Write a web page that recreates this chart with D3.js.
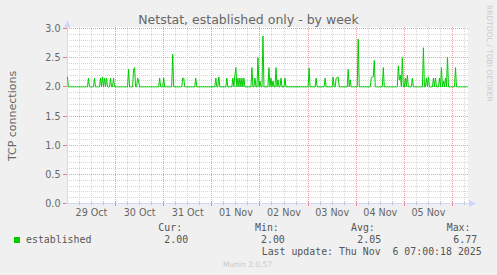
<!DOCTYPE html>
<html><head><meta charset="utf-8">
<script src="https://cdn.jsdelivr.net/npm/d3@7"></script>
<style>
html,body{margin:0;padding:0;background:#f0f0f0;}
svg{display:block;}
</style></head>
<body>
<script>
// ---- data ----
const title = "Netstat, established only - by week";
const yLabel = "TCP connections";
const seriesName = "established";
const seriesStart = Date.UTC(2025, 9, 29, 0, 0);   // first 30-minute sample
const sampleCount = 400;                            // 30-minute samples shown
const baselineValue = 2.0;                          // value of every sample not listed below
const spikeSlots = [0,21,27,33,35,37,39,43,46,61,66,67,70,71,92,96,105,115,116,128,148,151,159,165,167,168,170,172,174,176,184,187,190,192,195,201,203,205,208,210,213,217,241,248,257,265,268,269,270,280,282,290,303,304,305,306,315,330,331,332,334,337,339,344,355,358,360,365,367,371,373,375,377,379,387];
const spikeValues = [2.17,2.15,2.15,2.15,2.17,2.15,2.15,2.15,2.15,2.3,2.3,2.33,2.15,2.1,2.15,2.15,2.56,2.15,2.15,2.15,2.15,2.17,2.15,2.15,2.2,2.33,2.15,2.15,2.15,2.15,2.33,2.15,2.5,2.1,2.87,2.33,2.15,2.1,2.33,2.12,2.15,2.15,2.32,2.15,2.15,2.17,2.15,2.15,2.17,2.3,2.12,2.82,2.15,2.17,2.17,2.45,2.33,2.36,2.12,2.2,2.5,2.15,2.2,2.15,2.67,2.15,2.17,2.15,2.15,2.15,2.33,2.1,2.15,2.51,2.33];
const yTicks = [0.0,0.5,1.0,1.5,2.0,2.5,3.0];
const dayTicks = ["2025-10-29","2025-10-30","2025-10-31","2025-11-01","2025-11-02","2025-11-03","2025-11-04","2025-11-05"];
const legendHeads = ["Cur:","Min:","Avg:","Max:"];
const legendVals = ["2.00","2.00","2.05","6.77"];
const lastUpdate = "Last update: Thu Nov  6 07:00:18 2025";
const footer = "Munin 2.0.57";
const watermark = "RRDTOOL / TOBI OETIKER";

// ---- build series ----
const spikeMap = new Map(spikeSlots.map((s,i)=>[s, spikeValues[i]]));
const series = d3.range(sampleCount).map(i => ({
  t: new Date(seriesStart + i*1800000),
  v: spikeMap.has(i) ? spikeMap.get(i) : baselineValue
}));

// ---- layout ----
const W = 497, H = 275;
const pLeft = 67, pRight = 468, pTop = 27, pBottom = 203.5;
const svg = d3.select("body").append("svg").attr("width", W).attr("height", H)
  .style("font-family", "'DejaVu Sans', sans-serif");
svg.append("rect").attr("width", W).attr("height", H).attr("fill", "#f0f0f0");

const x = d3.scaleUtc()
  .domain([new Date(Date.UTC(2025,9,29)), new Date(Date.UTC(2025,10,6))])
  .range([67.4, 452.5]);
const y = d3.scaleLinear().domain([0, 3]).range([203.5, 28.5]);

svg.append("rect").attr("x", pLeft).attr("y", pTop).attr("width", pRight-pLeft).attr("height", pBottom-pTop).attr("fill", "#ffffff");

const g = svg.append("g");
const fontCol = "#666666";
const minorCol = "#d6d6d6", majorCol = "#eaa0a0";
const px = v => Math.round(v - 0.5) + 0.5;

// horizontal grid
const minorY = d3.range(1, 30).map(d => d/10).filter(v => Math.abs(v*2 - Math.round(v*2)) > 1e-6);
g.selectAll(".hmin").data(minorY).enter().append("line")
  .attr("x1", pLeft).attr("x2", pRight).attr("y1", d => px(y(d))).attr("y2", d => px(y(d)))
  .attr("stroke", minorCol).attr("stroke-dasharray", "1,1");
g.selectAll(".hmaj").data(yTicks.filter(v => v > 0)).enter().append("line")
  .attr("x1", pLeft).attr("x2", pRight).attr("y1", d => px(y(d))).attr("y2", d => px(y(d)))
  .attr("stroke", majorCol).attr("stroke-dasharray", "1,1");

// vertical grid
const domEnd = new Date(seriesStart + (sampleCount-1)*1800000);
const minorX = d3.utcHour.every(6).range(new Date(seriesStart + 1), domEnd).filter(d => d.getUTCHours() !== 0);
const majorX = d3.utcDay.range(new Date(seriesStart + 1), domEnd);
g.selectAll(".vmin").data(minorX).enter().append("line")
  .attr("x1", d => px(x(d))).attr("x2", d => px(x(d))).attr("y1", pTop).attr("y2", pBottom)
  .attr("stroke", minorCol).attr("stroke-dasharray", "1,1");
g.selectAll(".vmaj").data(majorX).enter().append("line")
  .attr("x1", d => px(x(d))).attr("x2", d => px(x(d))).attr("y1", pTop).attr("y2", pBottom)
  .attr("stroke", majorCol).attr("stroke-dasharray", "1,1");

// ticks on axes
g.selectAll(".xtmin").data(minorX).enter().append("line")
  .attr("x1", d => px(x(d))).attr("x2", d => px(x(d))).attr("y1", 202).attr("y2", 205)
  .attr("stroke", "#bbbbbb");
g.selectAll(".xtmaj").data(majorX).enter().append("line")
  .attr("x1", d => px(x(d))).attr("x2", d => px(x(d))).attr("y1", 201).attr("y2", 206)
  .attr("stroke", "#e88080");
g.selectAll(".ytmaj").data(yTicks).enter().append("line")
  .attr("x1", 63).attr("x2", 68).attr("y1", d => px(y(d))).attr("y2", d => px(y(d)))
  .attr("stroke", "#e88080");

// axes
const axisCol = "#CFD6F8";
g.append("line").attr("x1", 67.5).attr("x2", 67.5).attr("y1", 204).attr("y2", 24).attr("stroke", axisCol);
g.append("line").attr("x1", 66).attr("x2", 471).attr("y1", 203.5).attr("y2", 203.5).attr("stroke", axisCol);
g.append("path").attr("d", "M64,27.5 L67.5,20.5 L71,27.5 Z").attr("fill", axisCol);
g.append("path").attr("d", "M469,200 L476,203.5 L469,207 Z").attr("fill", axisCol);

// series line
const line = d3.line().x(d => x(d.t)).y(d => y(d.v));
svg.append("path").datum(series).attr("d", line)
  .attr("fill", "none").attr("stroke", "#00cc00").attr("stroke-width", 1);

// y tick labels
svg.selectAll(".ylab").data(yTicks).enter().append("text")
  .attr("x", 60.5).attr("y", d => y(d) + 3.6).attr("text-anchor", "end")
  .attr("font-size", "9.6px").attr("fill", fontCol).text(d => d.toFixed(1));

// x tick labels at noon
const fmt = d3.utcFormat("%d %b");
svg.selectAll(".xlab").data(dayTicks).enter().append("text")
  .attr("x", d => x(new Date(Date.parse(d + "T12:00:00Z"))))
  .attr("y", 216).attr("text-anchor", "middle")
  .attr("font-size", "9.6px").attr("fill", fontCol)
  .text(d => fmt(new Date(Date.parse(d + "T00:00:00Z"))));

// title
svg.append("text").attr("x", 248.5).attr("y", 24).attr("text-anchor", "middle")
  .attr("font-size", "12.5px").attr("fill", fontCol).text(title);

// y label
svg.append("text").attr("transform", "translate(15.5,116) rotate(-90)").attr("text-anchor", "middle")
  .attr("font-size", "11px").attr("fill", fontCol).text(yLabel);

// watermark
svg.append("text").attr("transform", "translate(486.5,5) rotate(90)").attr("text-anchor", "start")
  .attr("font-size", "7.5px").attr("fill", "#cccccc").text(watermark);

// legend
const mono = "'DejaVu Sans Mono', monospace";
const legCol = "#555555";
svg.append("rect").attr("x", 14).attr("y", 237).attr("width", 6).attr("height", 6).attr("fill", "#00cc00");
svg.append("text").attr("x", 26).attr("y", 243).attr("font-family", mono).attr("font-size", "9.9px")
  .attr("fill", legCol).text(seriesName);
const headX = [158.3, 255, 351, 446.7];
const valX = [164.3, 261, 357.3, 453.3];
svg.selectAll(".lh").data(legendHeads).enter().append("text")
  .attr("x", (d,i) => headX[i]).attr("y", 231).attr("font-family", mono).attr("font-size", "9.9px")
  .attr("fill", legCol).text(d => d);
svg.selectAll(".lv").data(legendVals).enter().append("text")
  .attr("x", (d,i) => valX[i]).attr("y", 243).attr("font-family", mono).attr("font-size", "9.9px")
  .attr("fill", legCol).text(d => d);
svg.append("text").attr("x", 261.7).attr("y", 255).attr("font-family", mono).attr("font-size", "9.9px")
  .attr("fill", legCol).attr("xml:space", "preserve").style("white-space", "pre").text(lastUpdate);
svg.append("text").attr("x", 247.5).attr("y", 267).attr("text-anchor", "middle")
  .attr("font-size", "7.5px").attr("fill", "#c8c8c8").text(footer);
</script>
</body></html>
